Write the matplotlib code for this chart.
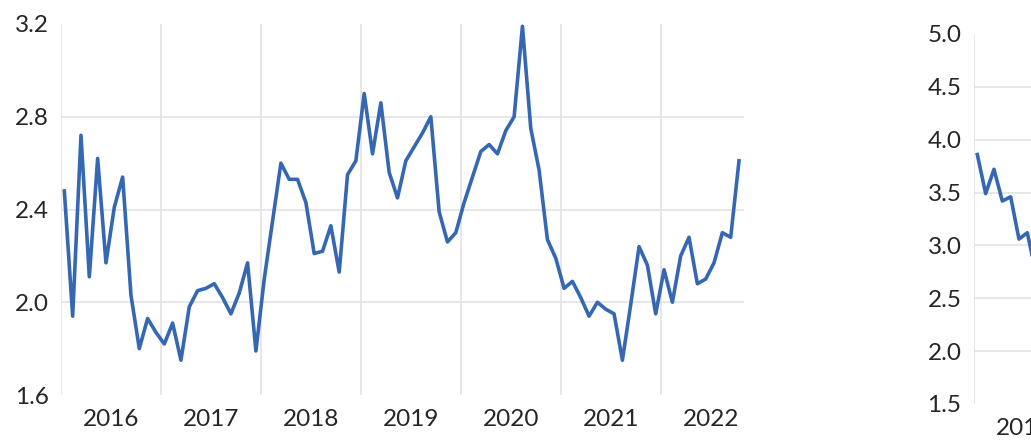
import numpy as np
import matplotlib
matplotlib.use("Agg")
import matplotlib.pyplot as plt

plt.rcParams['font.family'] = ['Lato', 'DejaVu Sans']

# monthly values, Jan 2016 .. Oct 2022
left_values = [
    2.48, 1.94, 2.72, 2.11, 2.62, 2.17, 2.41, 2.54, 2.03, 1.80, 1.93, 1.87,
    1.82, 1.91, 1.75, 1.98, 2.05, 2.06, 2.08, 2.02, 1.95, 2.04, 2.17, 1.79,
    2.10, 2.35, 2.60, 2.53, 2.53, 2.43, 2.21, 2.22, 2.33, 2.13, 2.55, 2.61,
    2.90, 2.64, 2.86, 2.56, 2.45, 2.61, 2.67, 2.73, 2.80, 2.39, 2.26, 2.30,
    2.43, 2.54, 2.65, 2.68, 2.64, 2.74, 2.80, 3.19, 2.75, 2.57, 2.27, 2.19,
    2.06, 2.09, 2.02, 1.94, 2.00, 1.97, 1.95, 1.75, 1.99, 2.24, 2.16, 1.95,
    2.14, 2.00, 2.20, 2.28, 2.08, 2.10, 2.17, 2.30, 2.28, 2.61,
]
# second panel, only the first months are visible
right_values = [3.86, 3.49, 3.72, 3.42, 3.46, 3.06, 3.12, 2.75]

years = ['2016', '2017', '2018', '2019', '2020', '2021', '2022']
left_yticks = [1.6, 2.0, 2.4, 2.8, 3.2]
right_yticks = [1.5, 2.0, 2.5, 3.0, 3.5, 4.0, 4.5, 5.0]
n_months = len(left_values)

W, H = 1031, 445
fig = plt.figure(figsize=(W / 100, H / 100), dpi=100)

line_color = '#3567b3'
grid_color = '#e3e3e3'
text_color = '#262626'


def style_axis(ax, yticks, fmt):
    ax.set_xlim(0, n_months)
    ax.set_ylim(yticks[0], yticks[-1])
    ax.set_yticks(yticks)
    ax.set_yticklabels([fmt.format(v) for v in yticks])
    ax.set_xticks(np.arange(0, 12 * len(years), 12))
    ax.set_xticklabels([])
    ax.set_xticks(np.arange(len(years)) * 12 + 6, minor=True)
    ax.set_xticklabels(years, minor=True)
    ax.tick_params(which='both', length=0, colors=text_color, labelsize=17.5)
    ax.tick_params(axis='y', pad=9)
    ax.tick_params(axis='x', which='minor', pad=10)
    for s in ax.spines.values():
        s.set_visible(False)
    ax.grid(True, which='major', color=grid_color, linewidth=1.2)
    gl = ax.yaxis.get_gridlines()
    gl[0].set_visible(False)
    gl[-1].set_visible(False)
    ax.set_axisbelow(True)


ax1 = fig.add_axes([61 / W, (H - 395) / H, 683 / W, 371 / H])
x1 = np.arange(len(left_values)) + 0.4
ax1.plot(x1, left_values, color=line_color, linewidth=2.6)
style_axis(ax1, left_yticks, '{:.1f}')

ax2 = fig.add_axes([974 / W, (H - 404) / H, 683 / W, 370 / H])
x2 = np.arange(len(right_values)) + 0.4
ax2.plot(x2, right_values, color=line_color, linewidth=2.6)
style_axis(ax2, right_yticks, '{:.1f}')

fig.savefig('out.png', dpi=100)
